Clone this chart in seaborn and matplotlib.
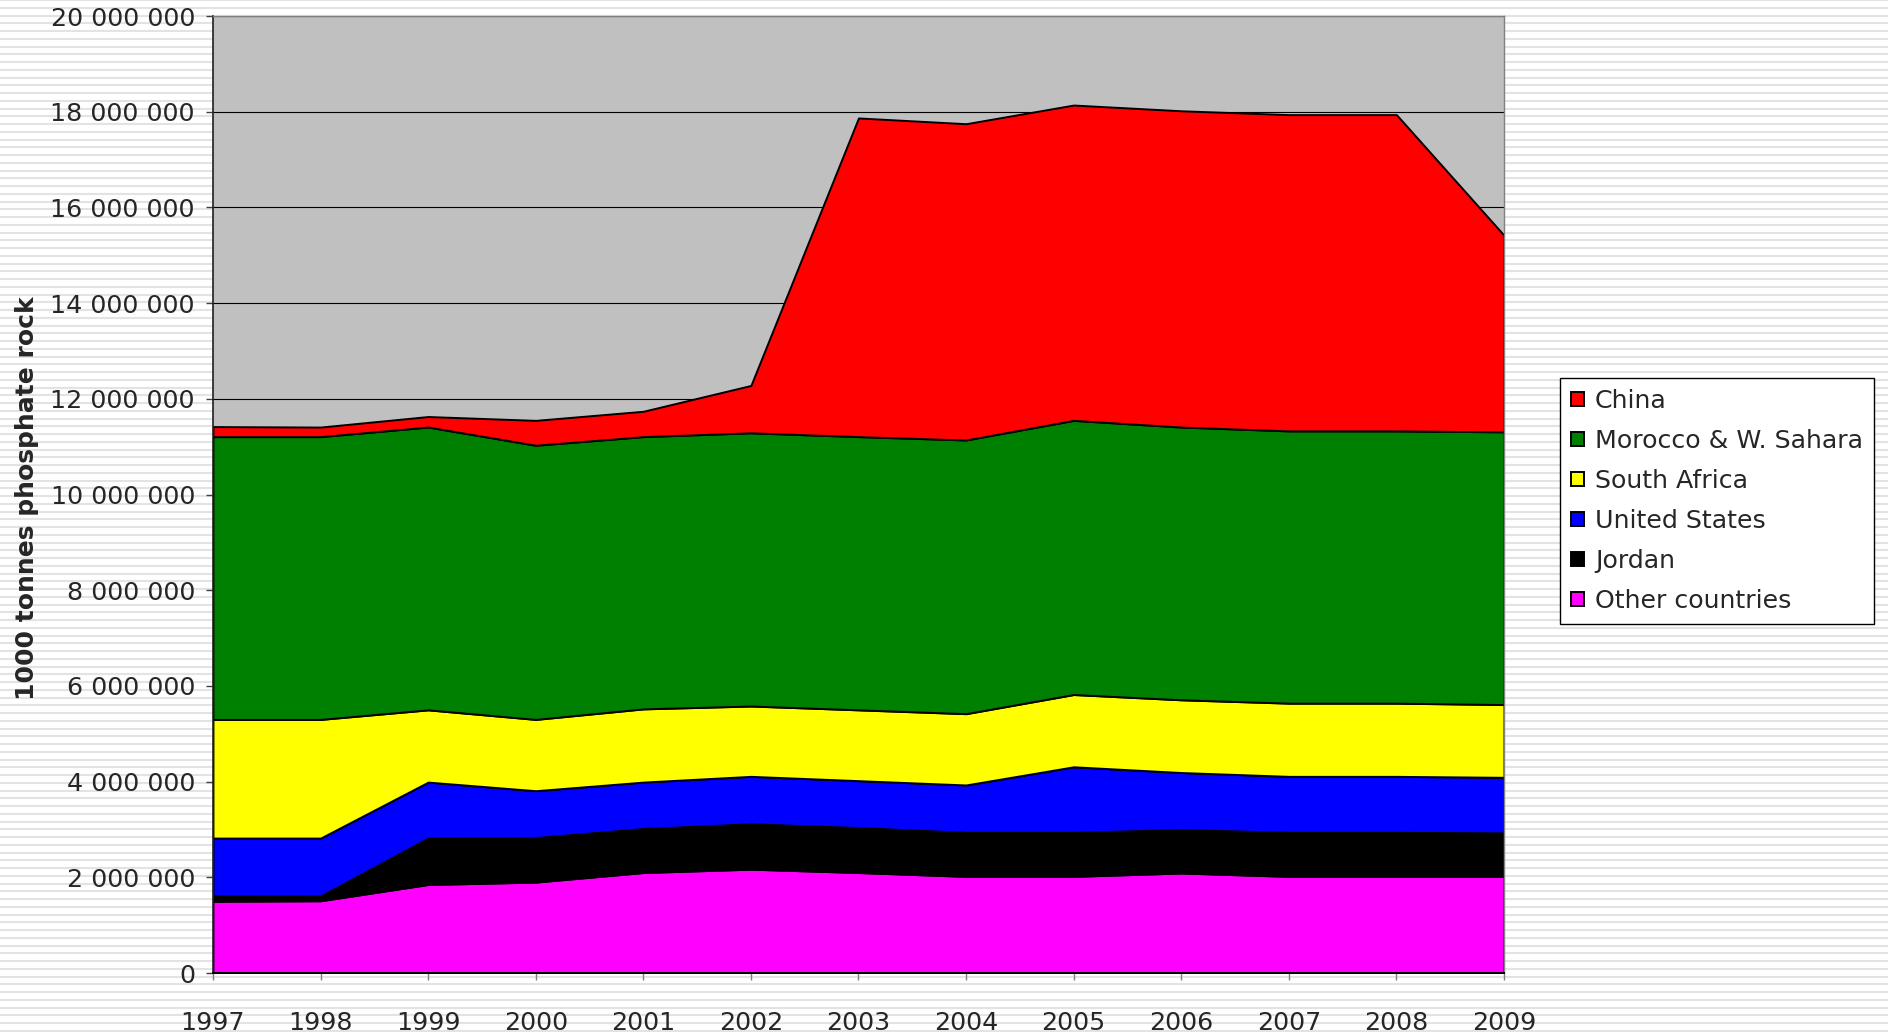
import numpy as np
import pandas as pd
import seaborn as sns
from matplotlib import pyplot as plt
from matplotlib.ticker import FuncFormatter

# phosphate rock production
years = [1997, 1998, 1999, 2000, 2001, 2002, 2003, 2004, 2005, 2006, 2007, 2008, 2009]
other = [1500, 1510, 1850, 1900, 2100, 2170, 2100, 2020, 2020, 2090, 2020, 2020, 2020]
jordan = [110, 100, 970, 930, 920, 950, 940, 920, 920, 910, 920, 920, 910]
usa = [1210, 1210, 1170, 980, 970, 990, 980, 990, 1370, 1190, 1170, 1170, 1160]
south_africa = [2480, 2480, 1510, 1490, 1530, 1470, 1480, 1490, 1510, 1520, 1530, 1530, 1520]
morocco = [5910, 5910, 5910, 5730, 5690, 5710, 5710, 5720, 5730, 5700, 5690, 5690, 5700]
china = [210, 200, 220, 520, 530, 990, 6660, 6610, 6590, 6610, 6610, 6610, 4110]

series = ['Other countries', 'Jordan', 'United States', 'South Africa', 'Morocco & W. Sahara', 'China']
colors = ['#ff00ff', '#000000', '#0000ff', '#ffff00', '#008000', '#ff0000']

df = pd.DataFrame({'year': years,
                   'Other countries': other,
                   'Jordan': jordan,
                   'United States': usa,
                   'South Africa': south_africa,
                   'Morocco & W. Sahara': morocco,
                   'China': china})
df[series] = df[series] * 1000

sns.set_theme(style='white')
plt.rcParams['font.family'] = ['DejaVu Sans']

fig = plt.figure(figsize=(18.88, 10.35), dpi=100)
fig.patch.set_facecolor('white')

# striped slide background
bg = fig.add_axes([0, 0, 1, 1], zorder=-10)
bg.hlines(np.arange(0.004, 1.0, 7.75 / 1035), 0, 1, color='#e3e3e3', lw=1.5)
bg.set_xlim(0, 1)
bg.set_ylim(0, 1)
bg.axis('off')

ax = fig.add_axes([0.1128, 0.0599, 0.6838, 0.9246])
ax.set_facecolor('#c0c0c0')
ax.set_axisbelow(True)
ax.yaxis.grid(True, color='black', lw=0.8)

polys = ax.stackplot(df['year'], [df[s] for s in series], colors=colors,
                     edgecolor='black', linewidth=1.4, labels=series)

ax.set_xlim(1997, 2009)
ax.set_ylim(0, 20000000)
ax.set_xticks(years)
ax.set_xticklabels([str(y) for y in years])
ax.set_yticks(np.arange(0, 20000001, 2000000))
ax.yaxis.set_major_formatter(FuncFormatter(lambda v, p: f'{v:,.0f}'.replace(',', ' ')))

ax.tick_params(axis='y', which='major', direction='out', length=5, width=1, color='#404040',
               labelsize=18.3, pad=8, left=True)
ax.tick_params(axis='x', which='major', direction='out', length=5, width=1, color='#808080',
               labelsize=18.3, pad=22, bottom=True)

for side in ['top', 'right']:
    ax.spines[side].set_color('#808080')
    ax.spines[side].set_linewidth(1)
ax.spines['left'].set_color('#202020')
ax.spines['left'].set_linewidth(1.2)
ax.spines['bottom'].set_color('black')
ax.spines['bottom'].set_linewidth(1.4)

ax.set_ylabel('1000 tonnes phosphate rock', fontsize=18, fontweight='bold')
ax.yaxis.set_label_coords(-0.135, 0.496)

leg = ax.legend(polys[::-1], series[::-1], loc='upper left',
                bbox_to_anchor=(0.8263, 0.6348), bbox_transform=fig.transFigure,
                fontsize=18.2, frameon=True, fancybox=False, framealpha=1,
                edgecolor='black', handlelength=0.48, handleheight=0.48,
                handletextpad=0.45, labelspacing=0.63, borderpad=0.45, borderaxespad=0)
leg.get_frame().set_linewidth(1)

fig.savefig('out.png', dpi=100)
